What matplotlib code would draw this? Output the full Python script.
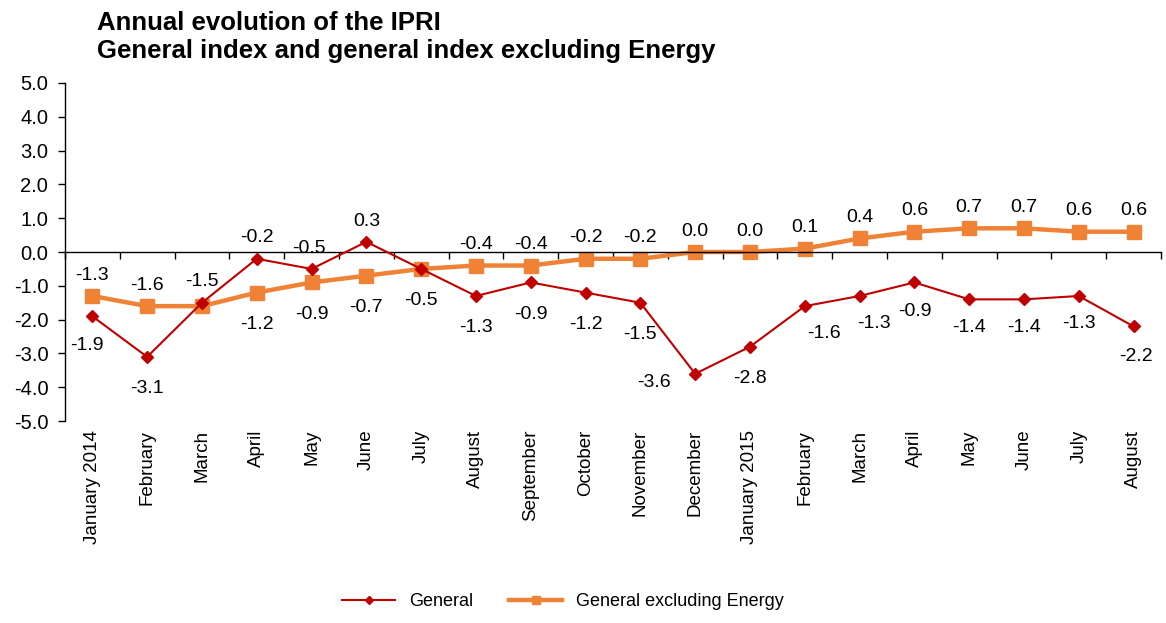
import matplotlib.pyplot as plt
import numpy as np
from matplotlib.ticker import FixedLocator

plt.rcParams["font.family"] = ["Liberation Sans", "DejaVu Sans"]

months = ["January 2014", "February", "March", "April", "May", "June", "July",
          "August", "September", "October", "November", "December",
          "January 2015", "February", "March", "April", "May", "June",
          "July", "August"]
general = [-1.9, -3.1, -1.5, -0.2, -0.5, 0.3, -0.5, -1.3, -0.9, -1.2, -1.5,
           -3.6, -2.8, -1.6, -1.3, -0.9, -1.4, -1.4, -1.3, -2.2]
excl_energy = [-1.3, -1.6, -1.6, -1.2, -0.9, -0.7, -0.5, -0.4, -0.4, -0.2,
               -0.2, 0.0, 0.0, 0.1, 0.4, 0.6, 0.7, 0.7, 0.6, 0.6]

# label placement: (dx, dy) in points, None = no label
gen_pos = [(-4, -21), (0, -23), (0, 15), (0, 15), (-2, 15), (0, 15), None,
           (0, -23), (0, -23), (0, -23), (0, -23), (-30, -6), (0, -23),
           (14, -20), (10, -20), (0, -21), (0, -20), (0, -20), (0, -20),
           (2, -22)]
exc_pos = [(0, 15), (0, 15), None, (0, -23), (0, -23), (0, -23), (0, -23)] + \
          [(0, 15)] * 13

C_GEN = "#C00000"
C_EXC = "#F08236"

fig = plt.figure(figsize=(11.66, 6.23), dpi=100)
ax = fig.add_axes([0.0557, 0.324, 0.94, 0.543])

x = np.arange(len(months))
ax.plot(x, general, color=C_GEN, lw=1.5, marker="D", ms=6.5,
        label="General", zorder=3)
ax.plot(x, excl_energy, color=C_EXC, lw=3.2, marker="s", ms=10,
        label="General excluding Energy", zorder=2)

for xi, v, p in zip(x, general, gen_pos):
    if p is not None:
        ax.annotate(f"{v:.1f}", (xi, v), xytext=p, textcoords="offset points",
                    ha="center", va="center", fontsize=14)
for xi, v, p in zip(x, excl_energy, exc_pos):
    if p is not None:
        ax.annotate(f"{v:.1f}", (xi, v), xytext=p, textcoords="offset points",
                    ha="center", va="center", fontsize=14)

ax.set_xlim(-0.5, len(months) - 0.5)
ax.set_ylim(-5, 5)
ax.set_yticks(np.arange(-5, 5.1, 1.0))
ax.set_yticklabels([f"{v:.1f}" for v in np.arange(-5, 5.1, 1.0)])
ax.tick_params(axis="y", labelsize=14.5, length=5, width=1, direction="out",
               pad=7)

ax.spines["top"].set_visible(False)
ax.spines["right"].set_visible(False)
ax.spines["bottom"].set_position(("data", 0))
ax.spines["bottom"].set_linewidth(1)
ax.spines["left"].set_linewidth(1)

ax.set_xticks(x)
ax.set_xticklabels(months, rotation=90, fontsize=13.5)
ax.xaxis.set_minor_locator(FixedLocator(np.arange(-0.5, len(months), 1.0)))
ax.tick_params(axis="x", which="major", length=0, pad=128)
ax.tick_params(axis="x", which="minor", length=5, width=1, direction="out")

fig.text(0.083, 0.982, "Annual evolution of the IPRI\n"
         "General index and general index excluding Energy",
         fontsize=18.5, fontweight="bold", ha="left", va="top",
         linespacing=1.2)

fig.legend(loc="lower center", bbox_to_anchor=(0.483, -0.005), ncol=2,
           frameon=False, fontsize=13, handlelength=2.9, columnspacing=2.0,
           markerscale=0.6)

fig.savefig("out.png", dpi=100)
